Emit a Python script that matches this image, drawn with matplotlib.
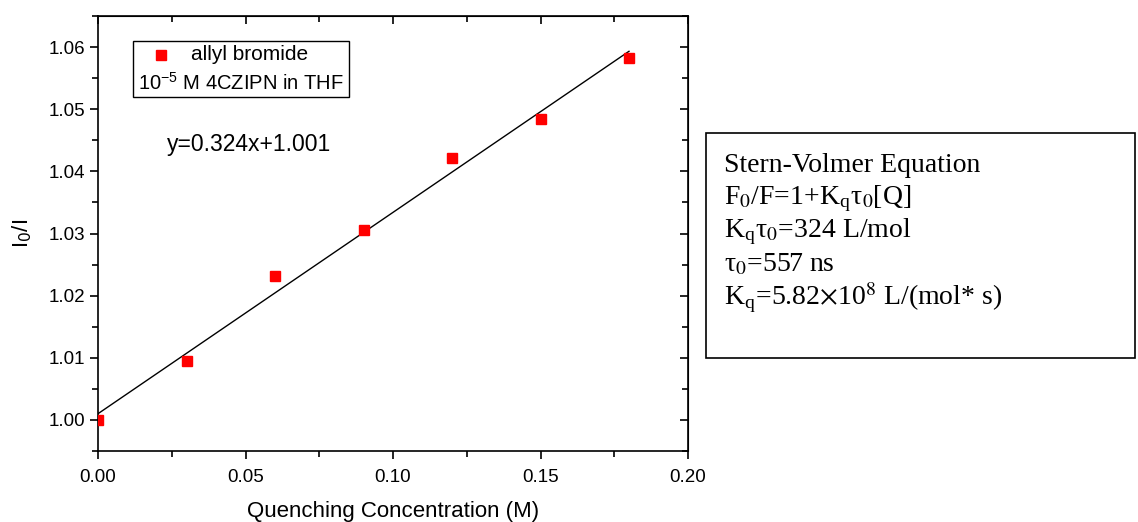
import numpy as np
import matplotlib.pyplot as plt
from matplotlib.ticker import MultipleLocator

# data
conc = [0.0, 0.03, 0.06, 0.09, 0.12, 0.15, 0.18]
ratio = [1.0000, 1.0095, 1.0231, 1.0306, 1.0421, 1.0485, 1.0582]
slope = 0.324
intercept = 1.001

info_lines = ["Stern-Volmer Equation",
              r"F$_0$/F=1+K$_\mathregular{q}$$\mathregular{\tau}_0$[Q]",
              r"K$_\mathregular{q}$$\mathregular{\tau}_0$=324 L/mol",
              r"$\mathregular{\tau}_0$=557 ns",
              r"K$_\mathregular{q}$=5.82$\times$10$^8$ L/(mol* s)"]

plt.rcParams['font.family'] = ['Liberation Sans', 'DejaVu Sans']
plt.rcParams['mathtext.fontset'] = 'custom'

fig = plt.figure(figsize=(11.38, 5.22), dpi=100)
ax = fig.add_axes([98/1138, 1-451/522, 590/1138, 435/522])

ax.plot(conc, ratio, 's', color='red', ms=7.5, zorder=3)
xs = np.array([conc[0], conc[-1]])
ax.plot(xs, slope*xs + intercept, '-', color='black', lw=1)

ax.set_xlim(0, 0.2)
ax.set_ylim(0.995, 1.065)
ax.xaxis.set_major_locator(MultipleLocator(0.05))
ax.xaxis.set_minor_locator(MultipleLocator(0.025))
ax.yaxis.set_major_locator(MultipleLocator(0.01))
ax.yaxis.set_minor_locator(MultipleLocator(0.005))
ax.xaxis.set_major_formatter(plt.FormatStrFormatter('%.2f'))
ax.yaxis.set_major_formatter(plt.FormatStrFormatter('%.2f'))
ax.tick_params(which='both', direction='out', labelsize=13.5, width=1.2)
ax.tick_params(which='major', length=6)
ax.tick_params(which='minor', length=4)
ax.tick_params(axis='x', pad=7)
for s in ax.spines.values():
    s.set_linewidth(1.2)

# ticks inside on top and right
ax2 = ax.secondary_xaxis('top')
ax2.xaxis.set_major_locator(MultipleLocator(0.05))
ax2.xaxis.set_minor_locator(MultipleLocator(0.025))
ax2.tick_params(which='both', direction='in', labeltop=False, width=1.2)
ax2.tick_params(which='major', length=6)
ax2.tick_params(which='minor', length=4)
ay2 = ax.secondary_yaxis('right')
ay2.yaxis.set_major_locator(MultipleLocator(0.01))
ay2.yaxis.set_minor_locator(MultipleLocator(0.005))
ay2.tick_params(which='both', direction='in', labelright=False, width=1.2)
ay2.tick_params(which='major', length=6)
ay2.tick_params(which='minor', length=4)

ax.set_xlabel('Quenching Concentration (M)', fontsize=16, labelpad=10.5)
ax.set_ylabel(r'I$_0$/I', fontsize=16, labelpad=10)

# legend box
fig.patches.append(plt.Rectangle((133/1138, 1-97/522), 216/1138, 56/522,
                                 transform=fig.transFigure, fill=False,
                                 edgecolor='black', lw=1.0))
fig.lines.append(plt.Line2D([161/1138], [1-55/522], marker='s', color='red', ms=7.5,
                            transform=fig.transFigure))
fig.text(250/1138, 1-55/522, 'allyl bromide', fontsize=15, ha='center', va='center')
fig.text(241/1138, 1-83/522, r'10$^{\mathregular{-5}}$ M 4CZIPN in THF', fontsize=14.5,
         ha='center', va='center')

fig.text(249/1138, 1-145/522, 'y=0.324x+1.001', fontsize=16.5, ha='center', va='center')

# equation box on the right
fig.patches.append(plt.Rectangle((706/1138, 1-358/522), 429/1138, 225/522,
                                 transform=fig.transFigure, fill=False,
                                 edgecolor='black', lw=1.2))
for i, t in enumerate(info_lines):
    fig.text(724/1138, 1-(165 + i*33.3)/522, t, fontsize=20, ha='left', va='center',
             family=['Liberation Serif', 'DejaVu Serif'], math_fontfamily='stix')

fig.savefig('out.png', dpi=100)
